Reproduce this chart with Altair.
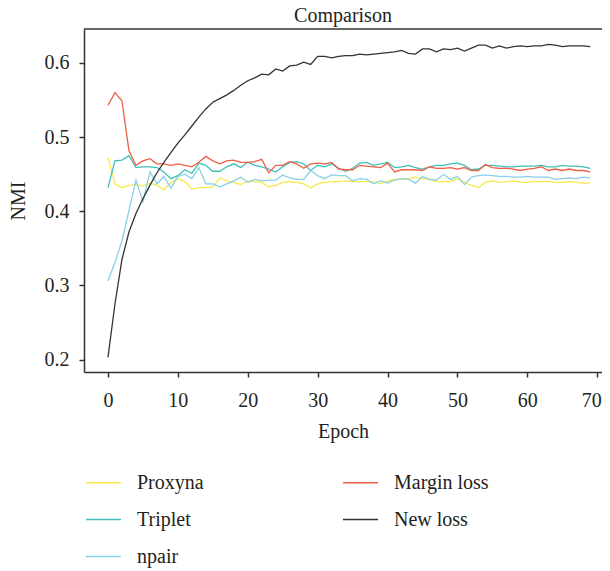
import altair as alt
import pandas as pd

epochs = list(range(70))

proxyna = [0.473, 0.437, 0.432, 0.435, 0.436, 0.434, 0.438, 0.435, 0.429, 0.439,
           0.444, 0.440, 0.430, 0.432, 0.432, 0.433, 0.445, 0.441, 0.439, 0.436,
           0.441, 0.440, 0.439, 0.433, 0.435, 0.439, 0.440, 0.439, 0.437, 0.431,
           0.437, 0.439, 0.440, 0.440, 0.441, 0.440, 0.440, 0.440, 0.440, 0.437,
           0.441, 0.443, 0.443, 0.444, 0.446, 0.444, 0.443, 0.440, 0.440, 0.440,
           0.444, 0.439, 0.435, 0.432, 0.439, 0.441, 0.439, 0.440, 0.441, 0.439,
           0.439, 0.440, 0.440, 0.440, 0.439, 0.439, 0.440, 0.439, 0.438, 0.438]

triplet = [0.432, 0.468, 0.469, 0.475, 0.459, 0.460, 0.460, 0.459, 0.453, 0.444,
           0.448, 0.456, 0.451, 0.465, 0.462, 0.454, 0.454, 0.460, 0.464, 0.459,
           0.466, 0.462, 0.460, 0.457, 0.453, 0.460, 0.466, 0.467, 0.464, 0.455,
           0.462, 0.460, 0.464, 0.458, 0.454, 0.458, 0.465, 0.466, 0.462, 0.464,
           0.466, 0.459, 0.460, 0.462, 0.459, 0.457, 0.460, 0.462, 0.462, 0.464,
           0.465, 0.462, 0.456, 0.457, 0.462, 0.462, 0.461, 0.460, 0.460, 0.461,
           0.461, 0.461, 0.462, 0.460, 0.460, 0.462, 0.461, 0.461, 0.460, 0.458]

npair = [0.306, 0.331, 0.360, 0.401, 0.442, 0.413, 0.453, 0.437, 0.447, 0.431,
         0.447, 0.450, 0.444, 0.459, 0.437, 0.437, 0.433, 0.437, 0.441, 0.446,
         0.439, 0.443, 0.441, 0.442, 0.442, 0.449, 0.445, 0.443, 0.443, 0.455,
         0.448, 0.444, 0.449, 0.448, 0.448, 0.441, 0.444, 0.443, 0.437, 0.441,
         0.438, 0.442, 0.444, 0.443, 0.438, 0.447, 0.443, 0.442, 0.450, 0.443,
         0.447, 0.436, 0.446, 0.448, 0.449, 0.448, 0.447, 0.447, 0.446, 0.446,
         0.447, 0.446, 0.446, 0.446, 0.443, 0.444, 0.445, 0.444, 0.446, 0.445]

margin_loss = [0.543, 0.560, 0.549, 0.482, 0.462, 0.468, 0.471, 0.464, 0.464, 0.462,
               0.464, 0.462, 0.460, 0.466, 0.474, 0.468, 0.464, 0.468, 0.469, 0.466,
               0.466, 0.467, 0.470, 0.452, 0.462, 0.462, 0.467, 0.464, 0.458, 0.464,
               0.465, 0.464, 0.466, 0.457, 0.456, 0.456, 0.462, 0.461, 0.460, 0.459,
               0.465, 0.453, 0.456, 0.456, 0.456, 0.455, 0.460, 0.458, 0.458, 0.459,
               0.457, 0.459, 0.455, 0.455, 0.463, 0.459, 0.458, 0.458, 0.457, 0.455,
               0.457, 0.458, 0.460, 0.455, 0.457, 0.455, 0.457, 0.455, 0.455, 0.453]

new_loss = [0.203, 0.275, 0.335, 0.372, 0.397, 0.417, 0.435, 0.452, 0.466, 0.479,
            0.492, 0.503, 0.515, 0.527, 0.538, 0.547, 0.552, 0.557, 0.563, 0.570,
            0.576, 0.580, 0.585, 0.584, 0.592, 0.589, 0.596, 0.597, 0.601, 0.598,
            0.609, 0.609, 0.607, 0.609, 0.610, 0.610, 0.612, 0.611, 0.612, 0.613,
            0.614, 0.615, 0.617, 0.613, 0.612, 0.619, 0.619, 0.615, 0.619, 0.618,
            0.620, 0.616, 0.620, 0.624, 0.624, 0.620, 0.623, 0.620, 0.622, 0.623,
            0.622, 0.623, 0.623, 0.625, 0.624, 0.622, 0.623, 0.623, 0.623, 0.622]

series = {
    "Proxyna": proxyna,
    "Triplet": triplet,
    "npair": npair,
    "Margin loss": margin_loss,
    "New loss": new_loss,
}

# legend fills column by column: Proxyna/Triplet/npair, then Margin loss/New loss
legend_order = ["Proxyna", "Triplet", "npair", "Margin loss", "New loss"]
legend_colors = ["#f7e94b", "#3ebfb8", "#86d0e8", "#ef5f45", "#333333"]

x_ticks = [0, 10, 20, 30, 40, 50, 60, 70]
y_ticks = [0.2, 0.3, 0.4, 0.5, 0.6]

rows = []
for name, vals in series.items():
    for e, v in zip(epochs, vals):
        rows.append({"epoch": e, "nmi": v, "series": name})
df = pd.DataFrame(rows)

x_min, x_max = -3.43, 70.68
y_min, y_max = 0.1833, 0.6458
FONT = "Liberation Serif"
INK = "#231f20"

x_scale = alt.Scale(domain=[x_min, x_max], nice=False, zero=False)
y_scale = alt.Scale(domain=[y_min, y_max], nice=False, zero=False)

lines = alt.Chart(df).mark_line(strokeWidth=1.3, clip=True).encode(
    x=alt.X("epoch:Q", scale=x_scale,
            axis=alt.Axis(values=x_ticks, title="Epoch", format="d",
                          labelPadding=13, titlePadding=11,
                          labelOffset={"condition": {"test": "datum.value == 70", "value": -6},
                                       "value": 0})),
    y=alt.Y("nmi:Q", scale=y_scale,
            axis=alt.Axis(values=y_ticks, title="NMI", format=".1f",
                          labelPadding=10, titlePadding=16)),
    color=alt.Color("series:N",
                    scale=alt.Scale(domain=legend_order, range=legend_colors),
                    legend=alt.Legend(title=None, orient="none", legendX=1, legendY=435,
                                      columns=2, symbolType="stroke", symbolSize=1225,
                                      symbolStrokeWidth=1.5, labelFontSize=20,
                                      labelFont=FONT, labelColor=INK, labelOffset=15,
                                      rowPadding=8, columnPadding=136, padding=0,
                                      labelLimit=300)),
)

top_line = alt.Chart(pd.DataFrame({"y": [y_max]})).mark_rule(
    color="#333333", strokeWidth=1.5
).encode(y=alt.Y("y:Q", scale=y_scale))

chart = alt.layer(lines, top_line).properties(
    width=518,
    height=343,
    autosize=alt.AutoSizeParams(type="none"),
    padding={"left": 76, "top": 21, "right": 0, "bottom": 196},
    title=alt.Title("Comparison", fontSize=20, fontWeight="normal", font=FONT,
                    color=INK, offset=2, frame="group", anchor="middle"),
).configure_view(stroke=None).configure_axis(
    grid=False, domainColor="#333333", domainWidth=1.5, tickColor="#333333",
    tickWidth=1.5, tickSize=5, labelFont=FONT, labelFontSize=20, labelColor=INK,
    titleFont=FONT, titleFontSize=20, titleFontWeight="normal", titleColor=INK,
)

chart.save("out.html", embed_options={"renderer": "svg", "actions": False})
